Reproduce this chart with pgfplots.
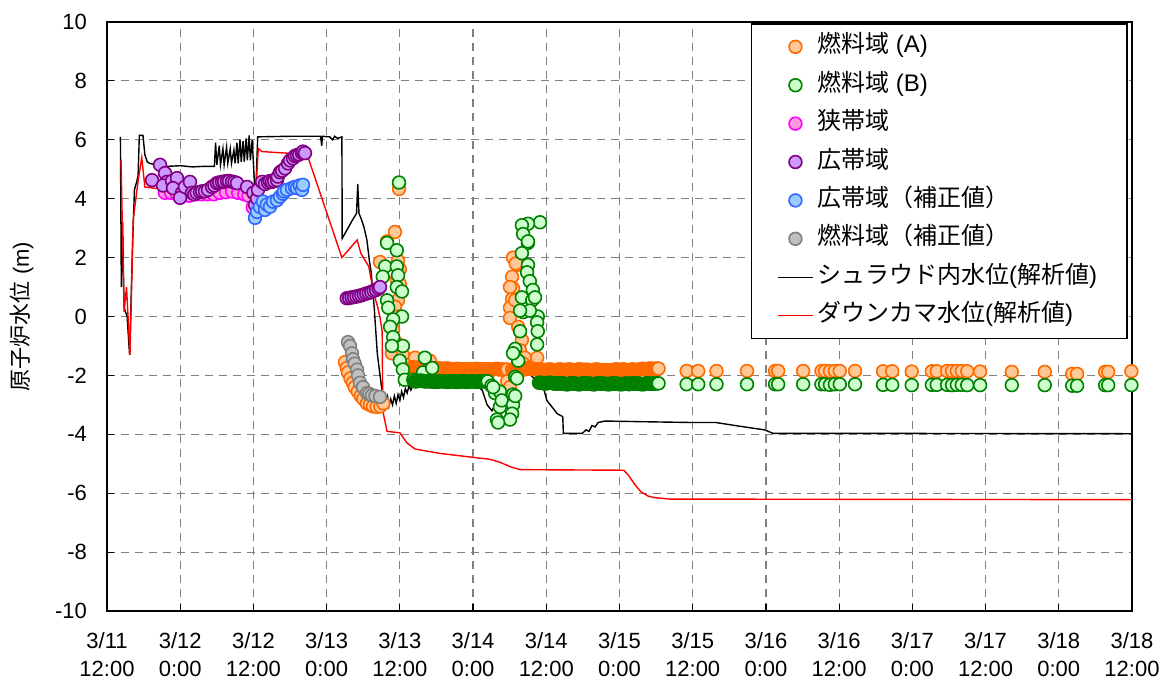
\documentclass[border=0pt]{standalone}
\usepackage{fontspec}
\setmainfont{Liberation Sans}
\newfontfamily\jp{Noto Sans CJK JP}
\usepackage{pgfplots}
\pgfplotsset{compat=1.18}
\definecolor{orA}{HTML}{FF6A00}
\definecolor{orAf}{HTML}{FFC896}
\definecolor{grB}{HTML}{008000}
\definecolor{grBf}{HTML}{CCFFCC}
\definecolor{mgN}{HTML}{FF00FF}
\definecolor{mgNf}{HTML}{FF99DD}
\definecolor{puW}{HTML}{800080}
\definecolor{puWf}{HTML}{CC99FF}
\definecolor{blC}{HTML}{3366FF}
\definecolor{blCf}{HTML}{99CCFF}
\definecolor{gyC}{HTML}{808080}
\definecolor{gyCf}{HTML}{C0C0C0}
\begin{document}
\begin{tikzpicture}[font=\fontsize{11}{14}\selectfont]
\begin{axis}[
  at={(0,0)}, anchor=south west,
  scale only axis, width=512.5pt, height=294.5pt,
  xmin=0, xmax=168, ymin=-10, ymax=10,
  clip=false,
  xtick={0,12,...,168},
  xticklabels={{3/11\\12:00},{3/12\\0:00},{3/12\\12:00},{3/13\\0:00},{3/13\\12:00},{3/14\\0:00},{3/14\\12:00},{3/15\\0:00},{3/15\\12:00},{3/16\\0:00},{3/16\\12:00},{3/17\\0:00},{3/17\\12:00},{3/18\\0:00},{3/18\\12:00}},
  ytick={-10,-8,...,10},
  yticklabels={-10,-8,-6,-4,-2,0,2,4,6,8,10},
  xticklabel style={align=center, yshift=-7pt},
  yticklabel style={xshift=-6.5pt},
  tick align=inside, xtick pos=bottom, ytick pos=left,
  major tick length=3.5pt,
  tick style={black, line width=0.6pt},
  axis line style={black, line width=0.8pt},
  grid=major,
  grid style={gray, line width=0.6pt, dash pattern=on 4pt off 3pt},
  every axis y label/.style={at={(axis description cs:-0.083,0.5)}, anchor=center, rotate=90},
  ylabel={{\jp 原子炉水位} (m)},
  legend cell align=left,
  legend style={at={(rel axis cs:1,1)}, anchor=north east, xshift=-2pt, yshift=-0.5pt,
    draw=black, line width=0.8pt, fill=white, font=\fontsize{12}{14}\selectfont,
    inner xsep=13pt, inner ysep=5pt, row sep=6.2pt,
    nodes={inner ysep=0pt, text height=9.5pt, text depth=3.5pt}},
  mark size=3.2pt,
]
% --- lines (drawn first, behind markers) ---
\addplot[black, line width=0.7pt, forget plot] coordinates {
(2.2,6.1) (2.35,1.0) (2.55,3.2) (2.8,0.3) (3.3,0.0) (3.7,-1.3) (4.2,2.5) (4.5,4.3) (4.9,4.6) (5.1,4.8) (5.3,6.15) (5.9,6.15) (6.2,5.5) (6.6,5.25) (7.0,5.2) (8.0,5.15) (10.0,5.1) (12.0,5.12) (14.0,5.08) (16.0,5.1) (17.5,5.1)
(17.6,5.1) (17.8,5.9) (18.0,5.15) (18.4,5.8) (18.6,5.15) (19.0,5.7) (19.2,5.15) (19.6,5.75) (19.8,5.2) (20.2,5.7) (20.4,5.2) (20.8,5.65) (21.0,5.2) (21.3,5.9) (21.5,5.2) (21.8,6.0) (22.0,5.25) (22.3,5.95) (22.5,5.25) (22.8,6.05) (23.0,5.3) (23.3,6.15) (23.5,5.3) (23.8,6.0) (24.0,5.2) (24.2,4.4) (24.4,4.3) (24.7,6.1)
(30.0,6.12) (35.0,6.12) (35.2,5.8) (35.3,6.12) (36.5,6.1) (37.0,6.0) (37.3,6.12) (37.8,6.05) (38.5,6.1)
(38.55,2.65) (39.5,3.0) (40.3,3.3) (40.9,3.5) (41.1,4.5) (41.3,3.5) (41.7,3.3) (42.1,3.05) (42.6,2.6) (43.0,1.9) (43.3,1.5) (43.8,0.3) (44.3,-1.25) (45.0,-2.4) (45.4,-2.85)
(45.6,-2.7) (45.8,-3.0) (46.0,-2.75) (46.2,-3.05) (46.5,-2.8) (46.8,-3.0) (47.1,-2.7) (47.4,-2.95) (47.7,-2.65) (48.0,-2.85) (48.3,-2.55) (48.6,-2.75) (48.9,-2.45) (49.2,-2.6) (49.5,-2.35) (49.8,-2.5) (50.2,-2.3) (50.6,-2.35) (51.3,-2.2)
(56.0,-2.2) (60.0,-2.25) (61.5,-2.5) (62.3,-3.0) (63.1,-3.2) (63.6,-3.0) (64.5,-2.6) (66.0,-2.4) (67.5,-2.2) (68.5,-1.95) (69.5,-2.0) (70.5,-2.2) (71.3,-2.25) (72.1,-2.85) (73.8,-3.3) (74.7,-3.4)
(74.8,-3.97) (77.9,-3.97) (78.5,-3.85) (79.0,-3.9) (79.5,-3.7) (80.0,-3.75) (80.5,-3.6) (81.6,-3.55) (90.0,-3.58) (96.0,-3.6) (99.8,-3.6) (103.5,-3.72) (107.8,-3.85) (109.2,-3.97) (130.0,-3.97) (168.0,-3.98)
};
\addplot[red, line width=0.7pt, forget plot] coordinates {
(2.3,5.3) (2.8,0.15) (3.2,1.0) (3.77,-1.3) (4.3,3.3) (5.1,4.6) (5.7,5.4) (6.2,4.4) (8.0,4.35) (12.0,4.35) (18.0,4.35) (23.5,4.35) (23.8,4.1) (24.3,3.9) (24.8,5.7) (25.4,5.6) (29.2,5.55) (32.8,5.5) (38.5,2.0) (41.0,2.6) (41.6,2.15) (42.9,1.7) (43.7,0.8) (44.4,0.3) (44.8,-0.1) (45.1,-0.5) (45.2,-3.2) (45.9,-3.9) (48.0,-3.95) (49.2,-4.3) (50.5,-4.5) (54.6,-4.65) (59.5,-4.77) (62.8,-4.85) (64.4,-4.95) (66.1,-5.1) (67.7,-5.2) (84.7,-5.22) (85.5,-5.4) (86.5,-5.7) (87.5,-5.95) (88.7,-6.1) (89.7,-6.15) (92.3,-6.2) (168.0,-6.22)
};
% --- Fuel range (A) ---
\addplot[only marks, mark=*, mark options={draw=orA, fill=orAf, line width=0.8pt}] coordinates {
(39.0,-1.55) (39.3,-1.75) (39.5,-1.9) (39.9,-2.1) (40.3,-2.25) (40.6,-2.4) (41.1,-2.55) (41.6,-2.7) (42.0,-2.8) (42.6,-2.95) (43.1,-3.0) (43.6,-3.05) (44.2,-3.07) (44.8,-3.05) (45.3,-2.95)
(47.86,4.33) (44.75,1.85) (45.9,2.55) (47.2,2.87) (47.7,1.9) (48.0,1.6) (47.5,1.25) (48.0,1.1) (47.7,0.55) (47.2,0.33) (47.7,0.0) (46.9,-0.45) (46.7,-1.25) (47.5,-0.9) (48.5,-1.3) (50.5,-1.4) (52.9,-1.5)
(50.0,-1.72) (50.2,-1.73) (50.4,-1.74) (50.6,-1.74) (50.8,-1.75) (51.0,-1.75) (51.2,-1.73) (51.4,-1.74) (51.6,-1.74) (51.8,-1.75) (52.0,-1.76) (52.2,-1.76) (52.4,-1.75) (52.6,-1.75) (52.8,-1.74) (53.0,-1.75) (53.2,-1.75) (53.4,-1.77) (53.6,-1.78) (53.8,-1.77) (54.0,-1.76) (54.2,-1.76) (54.4,-1.76) (54.6,-1.77) (54.8,-1.78) (55.0,-1.78) (55.2,-1.78) (55.4,-1.77) (55.6,-1.77) (55.8,-1.77) (56.0,-1.77) (56.2,-1.79) (56.4,-1.8) (56.6,-1.8) (56.8,-1.8) (57.0,-1.79) (57.2,-1.78) (57.4,-1.78) (57.6,-1.78) (57.8,-1.79) (58.0,-1.8) (58.2,-1.8) (58.4,-1.8) (58.6,-1.79) (58.8,-1.79) (59.0,-1.79) (59.2,-1.79) (59.4,-1.8) (59.6,-1.8) (59.8,-1.8) (60.0,-1.8) (60.2,-1.79) (60.4,-1.78) (60.6,-1.78) (60.8,-1.78) (61.0,-1.79) (61.2,-1.8) (61.4,-1.8) (61.6,-1.8) (61.8,-1.79) (62.0,-1.79) (62.2,-1.79) (62.4,-1.79) (62.6,-1.8) (62.8,-1.8) (63.0,-1.8) (63.2,-1.8) (63.4,-1.79) (63.6,-1.78) (63.8,-1.78) (64.0,-1.78) (64.2,-1.79) (64.4,-1.8) (64.6,-1.8) (64.8,-1.8) (65.0,-1.81) (65.2,-1.82) (65.4,-1.81) (65.6,-1.8)
(66.55,2.0) (67.2,1.75) (66.4,1.35) (66.55,0.95) (66.4,0.6) (66.05,0.3) (66.05,-0.05) (67.4,-0.35) (68.0,-0.8) (67.7,-1.15) (68.5,-1.4) (70.5,-1.4) (65.6,-2.2) (66.05,-2.4) (66.9,0.55) (66.05,1.0) (67.0,1.8) (68.2,-1.6)
(66.4,-1.8) (66.6,-1.8) (66.8,-1.8) (67.0,-1.79) (67.2,-1.78) (67.4,-1.78) (67.6,-1.78) (67.8,-1.79) (68.0,-1.8) (68.2,-1.8) (68.4,-1.8) (68.6,-1.77) (68.8,-1.75) (69.0,-1.75) (69.2,-1.75) (69.4,-1.77) (69.6,-1.78) (69.8,-1.78) (70.0,-1.78) (70.2,-1.79) (70.4,-1.8) (70.6,-1.8) (70.8,-1.8) (71.0,-1.8) (71.2,-1.8) (71.4,-1.81) (71.6,-1.82) (71.8,-1.82) (72.0,-1.82) (72.2,-1.81) (72.4,-1.8) (72.6,-1.8) (72.8,-1.8) (73.0,-1.82) (73.2,-1.83) (73.4,-1.83) (73.6,-1.83) (73.8,-1.82) (74.0,-1.8) (74.2,-1.8) (74.4,-1.8) (74.6,-1.81) (74.8,-1.82) (75.0,-1.82) (75.2,-1.82) (75.4,-1.81) (75.6,-1.8) (75.8,-1.8) (76.0,-1.8) (76.2,-1.82) (76.4,-1.83) (76.6,-1.83) (76.8,-1.83) (77.0,-1.82) (77.2,-1.8) (77.4,-1.8) (77.6,-1.8) (77.8,-1.81) (78.0,-1.82) (78.2,-1.81) (78.4,-1.81) (78.6,-1.81) (78.8,-1.81) (79.0,-1.82) (79.2,-1.83) (79.4,-1.83) (79.6,-1.83) (79.8,-1.82) (80.0,-1.8) (80.2,-1.8) (80.4,-1.8) (80.6,-1.82) (80.8,-1.83) (81.0,-1.83) (81.2,-1.83) (81.4,-1.82) (81.6,-1.82) (81.8,-1.82) (82.0,-1.82) (82.2,-1.83) (82.4,-1.84) (82.6,-1.84) (82.8,-1.84) (83.0,-1.82) (83.2,-1.8) (83.4,-1.8) (83.6,-1.8) (83.8,-1.81) (84.0,-1.82) (84.2,-1.81) (84.4,-1.8) (84.6,-1.8) (84.8,-1.8) (85.0,-1.82) (85.2,-1.83) (85.4,-1.83) (85.6,-1.83) (85.8,-1.81) (86.0,-1.8) (86.2,-1.8) (86.4,-1.8) (86.6,-1.82) (86.8,-1.84) (87.0,-1.82) (87.2,-1.8) (87.4,-1.79) (87.6,-1.78) (87.8,-1.78) (88.0,-1.78) (88.2,-1.79) (88.4,-1.8) (88.6,-1.78) (88.8,-1.77) (89.0,-1.77) (89.2,-1.77) (89.4,-1.78) (89.6,-1.78) (89.8,-1.78) (90.0,-1.77) (90.2,-1.77) (90.4,-1.77)
(95.0,-1.85) (96.9,-1.85) (99.9,-1.85) (104.9,-1.85) (109.5,-1.85) (110.0,-1.85) (114.1,-1.85) (117.1,-1.85) (117.7,-1.85) (118.5,-1.86) (119.3,-1.85) (120.1,-1.85) (122.6,-1.85) (127.2,-1.86) (128.7,-1.86) (131.9,-1.87) (135.2,-1.86) (136.0,-1.86) (137.7,-1.85) (138.5,-1.85) (139.3,-1.85) (140.1,-1.85) (141.0,-1.86) (143.1,-1.87) (148.3,-1.88) (153.7,-1.88) (158.2,-1.95) (159.0,-1.95) (163.6,-1.88) (164.1,-1.88) (167.9,-1.86)
};
\addlegendentry{{\jp 燃料域} (A)}
% --- Fuel range (B) ---
\addplot[only marks, mark=*, mark options={draw=grB, fill=grBf, line width=0.8pt}] coordinates {
(47.86,4.55)
(45.9,2.5) (47.5,2.25) (45.6,1.7) (47.5,1.7) (47.7,1.4) (45.2,1.35) (47.5,1.0) (48.35,0.85) (45.9,0.55) (46.1,0.3) (48.35,0.0) (46.9,-0.1) (46.4,-0.35) (46.9,-0.7) (48.5,-1.0) (46.7,-1.0) (48.0,-1.5) (48.5,-1.8) (48.8,-2.15) (50.2,-2.15) (51.8,-1.9) (52.1,-1.4) (53.3,-1.75)
(50.4,-2.2) (50.6,-2.2) (50.8,-2.2) (51.0,-2.19) (51.2,-2.18) (51.4,-2.18) (51.6,-2.18) (51.8,-2.19) (52.0,-2.2) (52.2,-2.2) (52.4,-2.2) (52.6,-2.2) (52.8,-2.2) (53.0,-2.2) (53.2,-2.2) (53.4,-2.21) (53.6,-2.22) (53.8,-2.22) (54.0,-2.22) (54.2,-2.21) (54.4,-2.2) (54.6,-2.2) (54.8,-2.2) (55.0,-2.2) (55.2,-2.2) (55.4,-2.21) (55.6,-2.22) (55.8,-2.22) (56.0,-2.22) (56.2,-2.21) (56.4,-2.2) (56.6,-2.2) (56.8,-2.2) (57.0,-2.21) (57.2,-2.22) (57.4,-2.22) (57.6,-2.22) (57.8,-2.21) (58.0,-2.2) (58.2,-2.2) (58.4,-2.2) (58.6,-2.21) (58.8,-2.22) (59.0,-2.22) (59.2,-2.22) (59.4,-2.21) (59.6,-2.2) (59.8,-2.2) (60.0,-2.2) (60.2,-2.21) (60.4,-2.22) (60.6,-2.22) (60.8,-2.22) (61.0,-2.21) (61.2,-2.2) (61.4,-2.2) (61.6,-2.2) (61.8,-2.2) (62.0,-2.2) (62.2,-2.2) (62.4,-2.2) (63.0,-2.35) (63.6,-2.6) (63.9,-3.5) (64.4,-3.07)
(70.97,3.2) (69.0,3.15) (68.0,3.1) (68.2,2.8) (69.0,2.5) (68.0,2.15) (69.0,1.75) (68.85,1.5) (69.3,1.2) (69.8,0.9) (68.0,0.65) (69.7,0.55) (68.2,0.15) (70.6,0.0) (70.5,-0.2) (70.6,-0.5) (67.7,-0.5) (70.5,-0.95) (66.9,-1.1) (67.4,-1.5) (66.55,-1.25) (66.9,-2.05) (64.4,-2.55) (63.3,-2.4) (64.7,-2.85) (66.55,-2.65) (66.55,-3.0) (66.4,-3.3) (66.05,-3.5) (64.1,-3.6) (70.15,0.65) (69.3,0.2) (67.7,0.2) (67.2,-2.1) (66.9,-2.7) (69.0,2.55)
(70.8,-2.25) (71.0,-2.25) (71.2,-2.25) (71.4,-2.26) (71.6,-2.27) (71.8,-2.27) (72.0,-2.27) (72.2,-2.26) (72.4,-2.25) (72.6,-2.25) (72.8,-2.25) (73.0,-2.26) (73.2,-2.27) (73.4,-2.28) (73.6,-2.28) (73.8,-2.28) (74.0,-2.28) (74.2,-2.27) (74.4,-2.27) (74.6,-2.27) (74.8,-2.27) (75.0,-2.29) (75.2,-2.3) (75.4,-2.3) (75.6,-2.3) (75.8,-2.28) (76.0,-2.27) (76.2,-2.27) (76.4,-2.27) (76.6,-2.28) (76.8,-2.28) (77.0,-2.29) (77.2,-2.3) (77.4,-2.3) (77.6,-2.3) (77.8,-2.28) (78.0,-2.27) (78.2,-2.27) (78.4,-2.27) (78.6,-2.28) (78.8,-2.28) (79.0,-2.28) (79.2,-2.28) (79.4,-2.29) (79.6,-2.3) (79.8,-2.3) (80.0,-2.3) (80.2,-2.28) (80.4,-2.27) (80.6,-2.27) (80.8,-2.27) (81.0,-2.28) (81.2,-2.28) (81.4,-2.28) (81.6,-2.28) (81.8,-2.29) (82.0,-2.3) (82.2,-2.3) (82.4,-2.3) (82.6,-2.28) (82.8,-2.27) (83.0,-2.27) (83.2,-2.27) (83.4,-2.28) (83.6,-2.28) (83.8,-2.29) (84.0,-2.3) (84.2,-2.3) (84.4,-2.3) (84.6,-2.29) (84.8,-2.28) (85.0,-2.28) (85.2,-2.28) (85.4,-2.29) (85.6,-2.3) (85.8,-2.28) (86.0,-2.27) (86.2,-2.27) (86.4,-2.27) (86.6,-2.28) (86.8,-2.28) (87.0,-2.28) (87.2,-2.28) (87.4,-2.29) (87.6,-2.3) (87.8,-2.3) (88.0,-2.3) (88.2,-2.28) (88.4,-2.27) (88.6,-2.27) (88.8,-2.27) (89.0,-2.28) (89.2,-2.28) (89.4,-2.28) (89.6,-2.28) (89.8,-2.27) (90.0,-2.27) (90.2,-2.27) (90.4,-2.27)
(95.0,-2.3) (96.9,-2.3) (99.9,-2.3) (104.9,-2.3) (109.5,-2.3) (110.0,-2.3) (114.1,-2.3) (117.1,-2.3) (117.7,-2.3) (118.5,-2.32) (119.3,-2.3) (120.1,-2.3) (122.6,-2.3) (127.2,-2.32) (128.7,-2.32) (131.9,-2.33) (135.2,-2.32) (136.0,-2.32) (137.7,-2.32) (138.5,-2.33) (139.3,-2.32) (140.1,-2.32) (141.0,-2.33) (143.1,-2.33) (148.3,-2.33) (153.7,-2.33) (158.2,-2.35) (159.0,-2.35) (163.6,-2.33) (164.1,-2.33) (167.9,-2.33)
};
\addlegendentry{{\jp 燃料域} (B)}
% --- Narrow range ---
\addplot[only marks, mark=*, mark options={draw=mgN, fill=mgNf, line width=0.8pt}] coordinates {
(9.5,4.2) (10.5,4.2) (11.5,4.15) (12.5,4.15) (13.5,4.1) (14.5,4.15) (15.5,4.15) (16.5,4.15) (17.5,4.15) (18.5,4.2) (19.5,4.22) (20.5,4.25) (21.5,4.2) (22.5,4.15) (23.2,4.1) (23.9,3.7)
};
\addlegendentry{\jp 狭帯域}
% --- Wide range ---
\addplot[only marks, mark=*, mark options={draw=puW, fill=puWf, line width=0.8pt}] coordinates {
(7.38,4.63) (8.69,5.15) (9.51,4.87) (9.83,4.57) (9.18,4.45) (10.65,4.6) (11.47,4.7) (10.82,4.36) (12.29,4.2) (11.97,4.03) (12.78,4.4) (13.6,4.57) (13.93,4.2) (14.3,4.15) (14.7,4.2) (15.24,4.23) (15.6,4.25) (16.06,4.25) (16.55,4.3) (17.21,4.4) (17.6,4.45) (18.03,4.53) (18.4,4.55) (18.85,4.57) (19.2,4.58) (19.67,4.6) (20.0,4.6) (20.49,4.58) (20.9,4.56) (21.31,4.53) (22.95,4.4) (24.0,4.2) (24.26,3.8) (24.59,4.0) (24.75,4.3) (25.41,4.57) (25.9,4.5) (26.39,4.55) (26.7,4.6) (27.04,4.57) (27.4,4.6) (27.86,4.63) (28.0,4.75) (28.36,4.9) (28.7,4.95) (29.18,5.03) (29.67,5.2) (30.0,5.3) (30.49,5.37) (30.8,5.45) (31.14,5.48) (31.5,5.5) (31.96,5.55) (32.13,5.6) (32.45,5.55)
(39.3,0.62) (39.7,0.63) (40.1,0.65) (40.5,0.66) (40.9,0.68) (41.3,0.7) (41.7,0.72) (42.1,0.75) (42.5,0.78) (42.9,0.8) (43.3,0.83) (43.7,0.87) (44.1,0.9) (44.5,0.95) (44.75,1.0)
};
\addlegendentry{\jp 広帯域}
% --- Wide range (corrected) ---
\addplot[only marks, mark=*, mark options={draw=blC, fill=blCf, line width=0.8pt}] coordinates {
(24.26,3.35) (24.59,3.55) (25.08,3.72) (25.57,3.9) (25.9,3.62) (26.2,3.8) (26.72,3.73) (27.21,3.9) (27.86,3.95) (28.36,4.07) (28.85,4.17) (29.0,4.25) (29.5,4.3) (30.32,4.36) (30.8,4.4) (31.14,4.36) (31.6,4.45) (31.96,4.3) (32.13,4.47)
};
\addlegendentry{\jp 広帯域（補正値）}
% --- Fuel range (corrected) ---
\addplot[only marks, mark=*, mark options={draw=gyC, fill=gyCf, line width=0.8pt}] coordinates {
(39.5,-0.87) (39.83,-1.0) (40.16,-1.25) (40.32,-1.45) (40.6,-1.6) (40.98,-1.8) (41.14,-2.0) (41.47,-2.25) (41.96,-2.4) (42.62,-2.6) (43.0,-2.63) (43.44,-2.68) (44.0,-2.7) (44.75,-2.73)
};
\addlegendentry{\jp 燃料域（補正値）}
\addlegendimage{black, line width=0.7pt}
\addlegendentry{{\jp シュラウド内水位}({\jp 解析値})}
\addlegendimage{red, line width=0.7pt}
\addlegendentry{{\jp ダウンカマ水位}({\jp 解析値})}
\end{axis}
\path (-53.5pt,-37.5pt) rectangle (530.5pt,305.5pt);
\end{tikzpicture}
\end{document}
